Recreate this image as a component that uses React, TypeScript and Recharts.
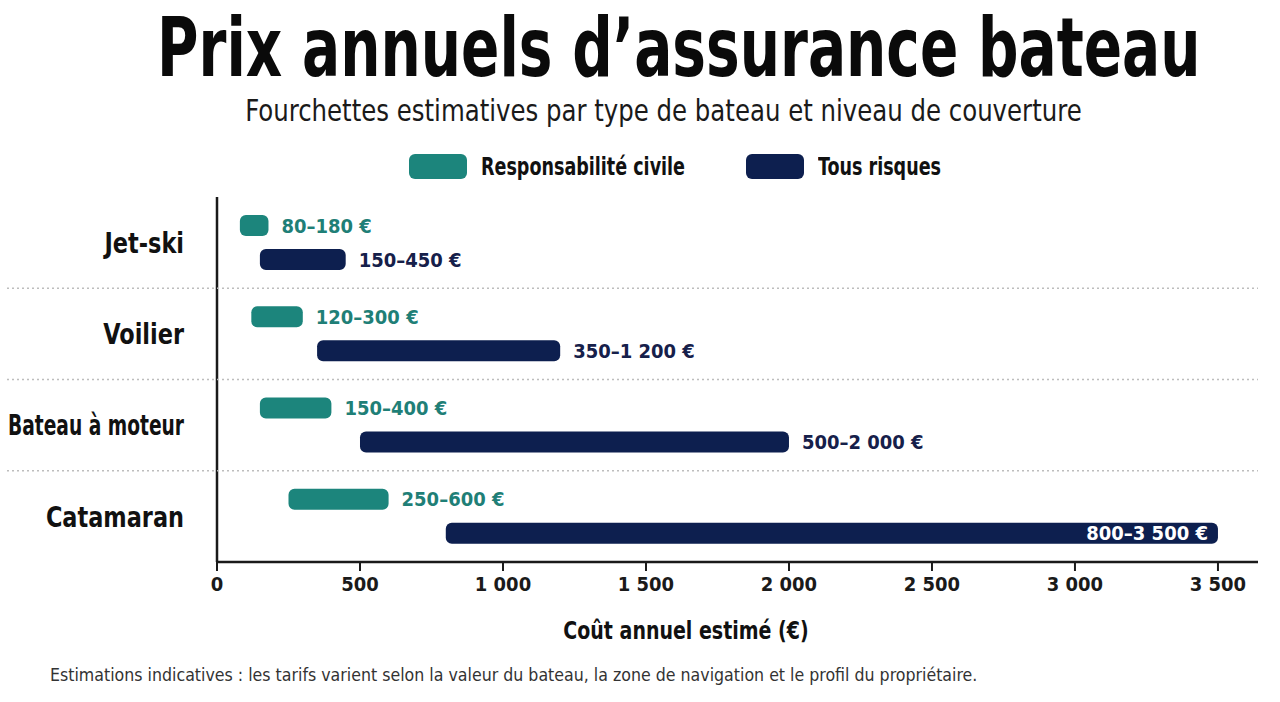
import React from "react";
import {
  BarChart,
  Bar,
  XAxis,
  YAxis,
  LabelList,
} from "recharts";

const FONT = "'DejaVu Sans Condensed', 'Liberation Sans', sans-serif";

const categories = ["Jet-ski", "Voilier", "Bateau à moteur", "Catamaran"];
const civileMin = [80, 120, 150, 250];
const civileMax = [180, 300, 400, 600];
const risquesMin = [150, 350, 500, 800];
const risquesMax = [450, 1200, 2000, 3500];
const xTicks = [0, 500, 1000, 1500, 2000, 2500, 3000, 3500];

const TEAL = "#1c857c";
const NAVY = "#0d1f4f";

const CHART_W = 1280;
const CHART_H = 470;
const MARGIN = { top: 7, right: 22, bottom: 10, left: 0 };
const Y_AXIS_W = 217;
const X_AXIS_H = 98 - MARGIN.bottom;
const PLOT_H = CHART_H - MARGIN.top - MARGIN.bottom - X_AXIS_H;
const BAND = PLOT_H / categories.length;
const PLOT_RIGHT = CHART_W - MARGIN.right;

// "1000" -> "1 000"
const fmt = (n: number) => String(n).replace(/\B(?=(\d{3})+(?!\d))/g, " ");
const rangeLabel = (a: number, b: number) => `${fmt(a)}–${fmt(b)} €`;

const data = categories.map((name, i) => ({
  name,
  civile: [civileMin[i], civileMax[i]],
  risques: [risquesMin[i], risquesMax[i]],
  civileLabel: rangeLabel(civileMin[i], civileMax[i]),
  risquesLabel: rangeLabel(risquesMin[i], risquesMax[i]),
}));

function CategoryTick(props: any) {
  const { x, y, payload, index } = props;
  const label = String(payload.value);
  const sx = 0.86;
  // long names get squeezed to keep them inside the left gutter
  const fit = label.length > 12 ? { textLength: 176 / sx, lengthAdjust: "spacingAndGlyphs" } : {};
  return (
    <g>
      {index > 0 && (
        <line
          x1={7}
          x2={PLOT_RIGHT}
          y1={y - BAND / 2}
          y2={y - BAND / 2}
          stroke="#bdbdbd"
          strokeWidth={1.3}
          strokeDasharray="2 3"
        />
      )}
      <g transform={`translate(${x - 25},${y}) scale(${sx},1)`}>
        <text
          x={fit.textLength ? -fit.textLength : 0}
          y={0}
          textAnchor={fit.textLength ? "start" : "end"}
          dominantBaseline="central"
          fontSize={29}
          fontWeight={700}
          fill="#111"
          fontFamily={FONT}
          {...(fit as any)}
        >
          {label}
        </text>
      </g>
    </g>
  );
}

// value label at the end of each range bar; goes inside the bar if it would run off the chart
function makeRangeLabel(color: string) {
  return function RangeLabel(props: any) {
    const { x, y, width, height, value } = props;
    const end = Number(x) + Number(width);
    const cy = Number(y) + Number(height) / 2;
    const est = String(value).length * 9.4;
    const inside = end + 12 + est > CHART_W - 4;
    return (
      <text
        x={inside ? end - 10 : end + 13}
        y={cy}
        textAnchor={inside ? "end" : "start"}
        dominantBaseline="central"
        fontSize={20}
        fontWeight={700}
        fill={inside ? "#ffffff" : color}
        fontFamily={FONT}
      >
        {value}
      </text>
    );
  };
}

function LegendItem({ color, label, left }: { color: string; label: string; left: number }) {
  return (
    <>
      <div
        style={{
          position: "absolute",
          left,
          top: 154,
          width: 58,
          height: 25,
          borderRadius: 6,
          background: color,
        }}
      />
      <div
        style={{
          position: "absolute",
          left: left + 72,
          top: 151,
          fontSize: 25,
          lineHeight: "32px",
          fontWeight: 700,
          color: "#111",
          whiteSpace: "nowrap",
          transform: "scaleX(0.78)",
          transformOrigin: "0 0",
        }}
      >
        {label}
      </div>
    </>
  );
}

export default function App() {
  return (
    <div
      style={{
        position: "absolute",
        left: 0,
        top: 0,
        width: 1280,
        height: 702,
        background: "#fff",
        fontFamily: FONT,
        overflow: "hidden",
      }}
    >
      <div
        style={{
          position: "absolute",
          top: 8,
          left: 0,
          width: 1348,
          textAlign: "center",
          fontSize: 82,
          fontWeight: 700,
          lineHeight: "80px",
          color: "#0a0a0a",
          whiteSpace: "nowrap",
          transform: "scaleX(0.767)",
          transformOrigin: "674px 0",
        }}
      >
        Prix annuels d’assurance bateau
      </div>
      <div
        style={{
          position: "absolute",
          top: 94,
          left: 0,
          width: 1327,
          textAlign: "center",
          fontSize: 30,
          lineHeight: "34px",
          color: "#1a1a1a",
          whiteSpace: "nowrap",
          transform: "scaleX(0.905)",
          transformOrigin: "663px 0",
        }}
      >
        Fourchettes estimatives par type de bateau et niveau de couverture
      </div>

      <LegendItem color={TEAL} label="Responsabilité civile" left={409} />
      <LegendItem color={NAVY} label="Tous risques" left={746} />

      <div style={{ position: "absolute", top: 190, left: 0 }}>
        <BarChart
          width={CHART_W}
          height={CHART_H}
          data={data}
          layout="vertical"
          margin={MARGIN}
          barSize={21}
          barGap={13}
        >
          <XAxis
            type="number"
            domain={[0, 3640]}
            ticks={xTicks}
            tickFormatter={fmt}
            height={X_AXIS_H}
            axisLine={{ stroke: "#1a1a1a", strokeWidth: 2.5 }}
            tickLine={{ stroke: "#1a1a1a", strokeWidth: 2 }}
            tickSize={9}
            tickMargin={6}
            tick={{ fontSize: 20, fontWeight: 700, fill: "#1a1a1a", fontFamily: FONT }}
          />
          <YAxis
            type="category"
            dataKey="name"
            width={Y_AXIS_W}
            axisLine={{ stroke: "#1a1a1a", strokeWidth: 2.5 }}
            tickLine={false}
            tick={<CategoryTick />}
            interval={0}
          />
          <Bar dataKey="civile" fill={TEAL} radius={6} isAnimationActive={false}>
            <LabelList dataKey="civileLabel" content={makeRangeLabel("#1f7f77")} />
          </Bar>
          <Bar dataKey="risques" fill={NAVY} radius={6} isAnimationActive={false}>
            <LabelList dataKey="risquesLabel" content={makeRangeLabel("#16204a")} />
          </Bar>
        </BarChart>
      </div>

      <div
        style={{
          position: "absolute",
          top: 615,
          left: 486,
          width: 400,
          textAlign: "center",
          fontSize: 24,
          fontWeight: 700,
          color: "#111",
          lineHeight: "32px",
          whiteSpace: "nowrap",
          transform: "scaleX(0.88)",
          transformOrigin: "200px 0",
        }}
      >
        Coût annuel estimé (€)
      </div>
      <div
        style={{
          position: "absolute",
          top: 664,
          left: 50,
          fontSize: 17.6,
          color: "#333",
          lineHeight: "22px",
          whiteSpace: "nowrap",
        }}
      >
        Estimations indicatives : les tarifs varient selon la valeur du bateau, la zone de navigation et le profil du propriétaire.
      </div>
    </div>
  );
}
